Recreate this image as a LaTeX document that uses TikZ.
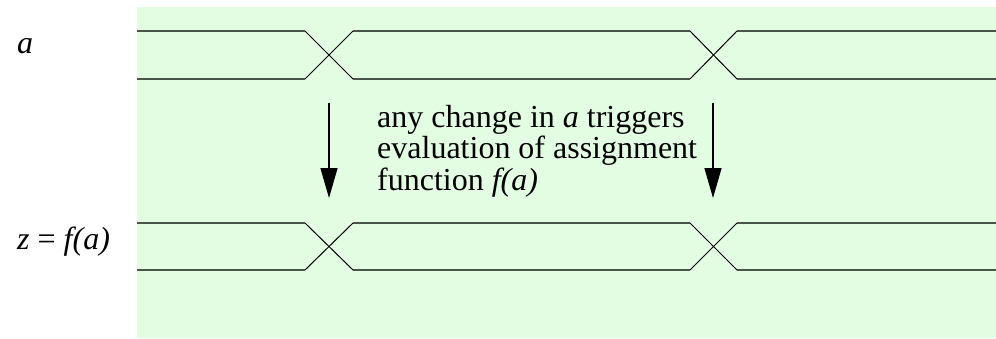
\documentclass[tikz,border=0pt]{standalone}
\usepackage{fontspec}
\setmainfont{Liberation Serif}
\usetikzlibrary{arrows.meta}
\definecolor{bggreen}{HTML}{E3FDE3}
\definecolor{busgray}{HTML}{4A564A}
\tikzset{
	bus/.style = {busgray, line width = 1.7pt},
	cross/.style = {black, line width = 1pt},
	trig/.style = {-{Triangle[length = 30pt, width = 17pt]}, line width = 1.3pt, black},
	sig/.style = {anchor = base west, inner sep = 0pt, font = \fontsize{32}{31.5}\selectfont}
}
\begin{document}
\begin{tikzpicture}[x = 1pt, y = -1pt]
	\useasboundingbox (0, 0) rectangle (996, 338);
	\fill[bggreen] (137, 7) rectangle (996, 338);
	\def\ta{305} \def\tb{353} \def\tc{690} \def\td{737}
	\foreach \yt/\yb in {31/79, 223/270} {
		\draw[bus] (137, \yt)--(\ta, \yt) (\tb, \yt)--(\tc, \yt) (\td, \yt)--(996, \yt);
		\draw[bus] (137, \yb)--(\ta, \yb) (\tb, \yb)--(\tc, \yb) (\td, \yb)--(996, \yb);
		\draw[cross] (\ta, \yt)--(\tb, \yb) (\ta, \yb)--(\tb, \yt) (\tc, \yt)--(\td, \yb) (\tc, \yb)--(\td, \yt);
	}
	\node[sig] (siga) at (17, 53) {\itshape a};
	\node[sig] (sigz) at (17, 249) {\itshape z\upshape{} = \itshape f(a)};
	% base of the last line
	\node[sig, align = left] (note) at (377, 190) {any change in \textit{a} triggers\\evaluation of assignment\\function \textit{f(a)}};
	\coordinate (evta) at (329, 103); \coordinate (evtz) at (329, 198);
	\coordinate (evtb) at (713, 103); \coordinate (evtw) at (713, 198);
	\draw[trig] (evta)--(evtz);
	\draw[trig] (evtb)--(evtw);
\end{tikzpicture}
\end{document}
